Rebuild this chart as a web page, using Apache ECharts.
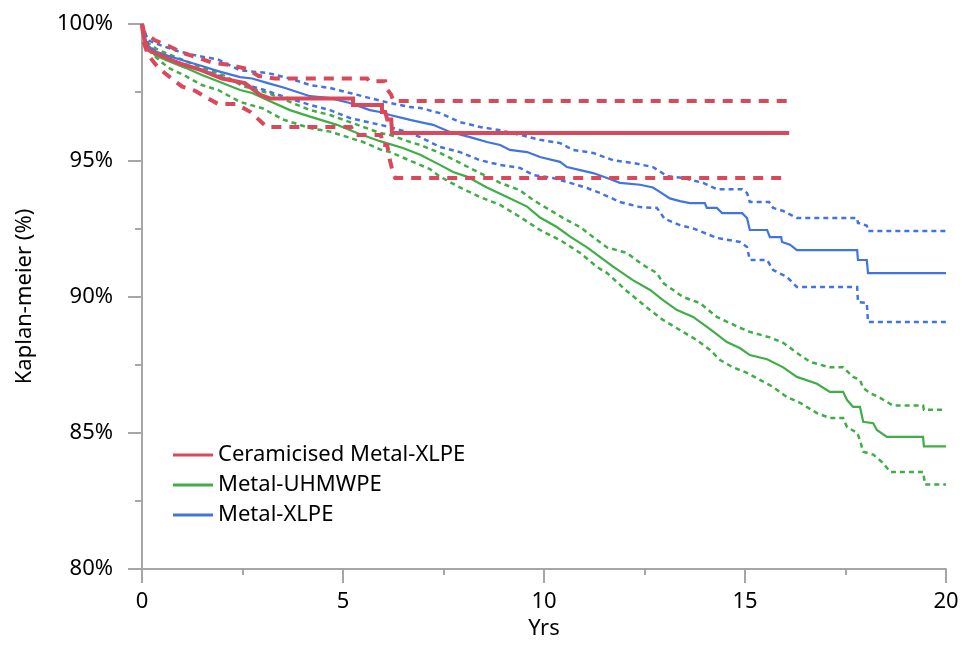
<!DOCTYPE html>
<html><head><meta charset="utf-8">
<script src="https://cdn.jsdelivr.net/npm/echarts@6/dist/echarts.min.js"></script>
<style>html,body{margin:0;padding:0;background:#fff}#c{width:963px;height:649px}</style>
</head><body><div id="c"></div>
<script>
const seriesNames = ['Ceramicised Metal-XLPE', 'Metal-UHMWPE', 'Metal-XLPE'];
const xAxisTitle = 'Yrs';
const yAxisTitle = 'Kaplan-meier (%)';

// [years, survival %]
const ceramicKM = [[0,100],[0.05,99.5],[0.15,99.05],[0.5,98.83],[0.9,98.57],[1.49,98.3],[1.99,98.0],[2.56,97.83],[2.94,97.4],[3.18,97.27],[5.25,97.27],[5.25,97.03],[5.97,97.03],[5.97,96.77],[6.05,96.77],[6.1,96.5],[6.2,96.5],[6.22,96.0],[16.1,96.0]];
const ceramicUpper = [[0,100],[0.05,99.7],[0.32,99.4],[0.65,99.2],[1.0,98.95],[1.77,98.57],[2.19,98.5],[2.61,98.35],[2.89,98.1],[3.3,98.0],[5.6,98.0],[5.65,97.9],[6.05,97.9],[6.1,97.6],[6.2,97.4],[6.25,97.17],[16.1,97.17]];
const ceramicLower = [[0,100],[0.05,99.3],[0.15,98.86],[0.4,98.4],[0.65,98.1],[1.0,97.7],[1.32,97.55],[1.6,97.3],[1.9,97.06],[2.35,97.06],[2.7,96.77],[2.9,96.5],[3.1,96.22],[5.2,96.22],[5.3,95.93],[5.95,95.93],[5.97,95.56],[6.1,95.56],[6.15,95.1],[6.25,94.5],[6.3,94.35],[16.1,94.35]];

const uhmwpeKM = [[0,100],[0.12,99.2],[0.32,98.86],[0.65,98.64],[1.07,98.4],[1.49,98.13],[1.89,97.9],[2.44,97.58],[2.74,97.47],[3.13,97.2],[3.68,96.84],[4.18,96.6],[4.85,96.3],[5.35,96.0],[5.92,95.7],[6.49,95.45],[6.92,95.2],[7.41,94.83],[7.74,94.57],[8.08,94.4],[8.58,94.0],[9.08,93.65],[9.58,93.3],[9.9,92.9],[10.32,92.55],[10.65,92.2],[11.07,91.8],[11.39,91.45],[11.72,91.1],[12.21,90.6],[12.64,90.24],[12.96,89.87],[13.31,89.5],[13.71,89.25],[14.13,88.8],[14.55,88.33],[14.88,88.1],[15.12,87.85],[15.55,87.7],[15.95,87.4],[16.29,87.05],[16.79,86.8],[17.11,86.5],[17.44,86.5],[17.54,86.2],[17.69,85.95],[17.86,85.95],[17.94,85.4],[18.19,85.35],[18.28,85.1],[18.53,84.85],[19.43,84.85],[19.45,84.5],[20,84.5]];
const uhmwpeUpper = [[0,100],[0.15,99.3],[0.4,99.05],[0.9,98.75],[1.49,98.4],[2.06,98.1],[2.5,97.72],[3.13,97.47],[3.68,97.14],[4.18,96.84],[4.68,96.66],[5.17,96.4],[5.92,96.0],[6.17,95.93],[6.67,95.67],[6.92,95.56],[7.41,95.27],[7.91,94.9],[8.41,94.53],[8.91,94.17],[9.4,93.9],[9.73,93.54],[10.15,93.17],[10.57,92.8],[10.9,92.55],[11.22,92.18],[11.57,91.8],[12.06,91.6],[12.46,91.16],[12.81,90.86],[12.96,90.5],[13.46,89.98],[13.88,89.76],[14.3,89.25],[14.8,88.9],[15.12,88.7],[15.62,88.5],[15.95,88.3],[16.29,87.93],[16.62,87.6],[17.11,87.4],[17.44,87.4],[17.69,87.05],[17.86,86.94],[17.94,86.64],[18.11,86.46],[18.36,86.28],[18.68,86.0],[19.43,86.0],[19.45,85.84],[20,85.84]];
const uhmwpeLower = [[0,100],[0.15,99.05],[0.37,98.75],[0.65,98.4],[1.07,98.1],[1.49,97.76],[1.89,97.58],[2.44,97.14],[3.01,96.9],[3.5,96.5],[4.18,96.18],[4.68,96.05],[5.5,95.67],[5.92,95.4],[6.17,95.3],[6.74,94.94],[7.16,94.68],[7.41,94.4],[7.91,94.0],[8.41,93.65],[8.91,93.36],[9.4,92.92],[9.9,92.44],[10.4,92.07],[10.9,91.6],[11.32,91.08],[11.57,90.86],[12.06,90.2],[12.64,89.5],[12.96,89.14],[13.38,88.77],[13.8,88.4],[14.13,88.04],[14.38,87.67],[14.7,87.4],[15.05,87.2],[15.37,86.94],[15.7,86.68],[16.04,86.31],[16.37,86.1],[16.79,85.72],[17.11,85.54],[17.44,85.54],[17.54,85.2],[17.79,85.0],[17.86,84.73],[17.94,84.3],[18.19,84.2],[18.43,83.9],[18.61,83.56],[19.43,83.56],[19.48,83.1],[20,83.1]];

const xlpeKM = [[0,100],[0.07,99.3],[0.32,99.0],[0.65,98.83],[1.07,98.64],[1.49,98.46],[1.89,98.27],[2.44,98.05],[2.74,98.0],[3.13,97.83],[3.56,97.65],[4.18,97.35],[4.68,97.28],[5.17,97.1],[5.67,96.84],[5.92,96.77],[6.17,96.66],[6.67,96.48],[6.92,96.4],[7.24,96.3],[7.66,96.04],[8.16,95.85],[8.58,95.67],[8.91,95.56],[9.15,95.38],[9.58,95.3],[9.9,95.12],[10.4,94.94],[10.57,94.75],[10.9,94.64],[11.22,94.53],[11.57,94.35],[11.89,94.17],[12.39,94.1],[12.71,94.0],[12.89,93.83],[13.13,93.6],[13.38,93.5],[13.63,93.43],[14.0,93.43],[14.05,93.25],[14.3,93.25],[14.43,93.06],[14.93,93.06],[15.05,92.88],[15.12,92.44],[15.55,92.44],[15.62,92.18],[15.9,92.18],[15.92,92.0],[16.12,91.9],[16.29,91.7],[17.79,91.7],[17.81,91.34],[18.03,91.34],[18.06,90.86],[20,90.86]];
const xlpeUpper = [[0,100],[0.15,99.4],[0.5,99.2],[0.9,99.0],[1.39,98.83],[1.89,98.7],[2.44,98.3],[3.13,98.2],[3.68,98.0],[4.18,97.76],[4.68,97.65],[5.17,97.47],[5.67,97.28],[6.17,97.1],[6.67,96.95],[6.92,96.92],[7.41,96.73],[7.91,96.4],[8.41,96.22],[8.91,96.1],[9.4,95.93],[9.9,95.75],[10.4,95.63],[10.72,95.38],[11.22,95.27],[11.72,95.0],[12.21,94.9],[12.71,94.75],[13.06,94.42],[13.46,94.35],[13.96,94.17],[14.3,93.94],[14.93,93.94],[15.05,93.8],[15.12,93.47],[15.6,93.47],[15.7,93.25],[15.95,93.14],[16.29,92.88],[17.79,92.88],[17.81,92.7],[18.03,92.6],[18.06,92.4],[20,92.4]];
const xlpeLower = [[0,100],[0.15,99.2],[0.5,98.86],[0.9,98.6],[1.32,98.4],[1.82,98.15],[2.44,97.83],[3.0,97.6],[3.6,97.3],[4.18,97.03],[4.68,96.84],[5.17,96.55],[5.92,96.3],[6.17,96.22],[6.67,96.0],[6.92,95.85],[7.41,95.49],[7.91,95.3],[8.41,95.0],[8.91,94.83],[9.4,94.72],[9.73,94.46],[10.22,94.35],[10.65,94.17],[11.07,93.98],[11.39,93.8],[11.89,93.47],[12.39,93.28],[12.81,93.25],[13.0,92.85],[13.38,92.62],[13.71,92.5],[14.3,92.15],[14.88,92.0],[15.05,91.82],[15.12,91.34],[15.55,91.34],[15.7,90.97],[16.04,90.72],[16.29,90.35],[17.79,90.35],[17.81,89.8],[18.03,89.76],[18.06,89.06],[20,89.06]];

const RED = '#d9485b', GREEN = '#40ad47', BLUE = '#4274e0';
const FONT = '"Noto Sans", "Open Sans", sans-serif';

function line(name, data, color, width, type, z) {
  return {
    name: name, type: 'line', data: data, showSymbol: false, symbol: 'none',
    animation: false, z: z, silent: true,
    itemStyle: { color: color },
    lineStyle: { color: color, width: width, type: type, cap: 'butt', join: 'miter' }
  };
}

const chart = echarts.init(document.getElementById('c'), null, { renderer: 'canvas' });
chart.setOption({
  animation: false,
  backgroundColor: '#fff',
  textStyle: { fontFamily: FONT },
  grid: { left: 142, right: 17, top: 24, bottom: 80 },
  legend: {
    data: seriesNames,
    orient: 'vertical', left: 168, top: 439,
    icon: 'rect', itemWidth: 40, itemHeight: 3, itemGap: 8,
    textStyle: { fontSize: 22, color: '#000', fontFamily: FONT, lineHeight: 22 }
  },
  xAxis: {
    type: 'value', min: 0, max: 20, interval: 5,
    name: xAxisTitle, nameLocation: 'middle', nameGap: 48,
    nameTextStyle: { fontSize: 22, color: '#000', fontFamily: FONT },
    axisLine: { show: true, lineStyle: { color: '#a6a6a6', width: 2 } },
    axisTick: { show: true, length: 14, lineStyle: { color: '#a6a6a6', width: 2 } },
    minorTick: { show: true, splitNumber: 2, length: 6, lineStyle: { color: '#a6a6a6', width: 2 } },
    axisLabel: { fontSize: 22, color: '#000', margin: 22, fontFamily: FONT },
    splitLine: { show: false }
  },
  yAxis: {
    type: 'value', min: 80, max: 100, interval: 5,
    name: yAxisTitle, nameLocation: 'middle', nameGap: 106,
    nameTextStyle: { fontSize: 22, color: '#000', fontFamily: FONT },
    axisLine: { show: true, lineStyle: { color: '#a6a6a6', width: 2 } },
    axisTick: { show: true, length: 14, lineStyle: { color: '#a6a6a6', width: 2 } },
    minorTick: { show: true, splitNumber: 2, length: 7, lineStyle: { color: '#a6a6a6', width: 2 } },
    axisLabel: { fontSize: 22, color: '#000', margin: 29, fontFamily: FONT, formatter: '{value}%' },
    splitLine: { show: false }
  },
  series: [
    line(seriesNames[1], uhmwpeKM, GREEN, 2.2, 'solid', 2),
    line(seriesNames[1] + ' upper', uhmwpeUpper, GREEN, 2.5, [5, 4], 2),
    line(seriesNames[1] + ' lower', uhmwpeLower, GREEN, 2.5, [5, 4], 2),
    line(seriesNames[2], xlpeKM, BLUE, 2.2, 'solid', 3),
    line(seriesNames[2] + ' upper', xlpeUpper, BLUE, 2.5, [5, 4], 3),
    line(seriesNames[2] + ' lower', xlpeLower, BLUE, 2.5, [5, 4], 3),
    line(seriesNames[0], ceramicKM, RED, 4, 'solid', 4),
    line(seriesNames[0] + ' upper', ceramicUpper, RED, 4, [10, 8], 4),
    line(seriesNames[0] + ' lower', ceramicLower, RED, 4, [10, 8], 4)
  ]
});
</script></body></html>
